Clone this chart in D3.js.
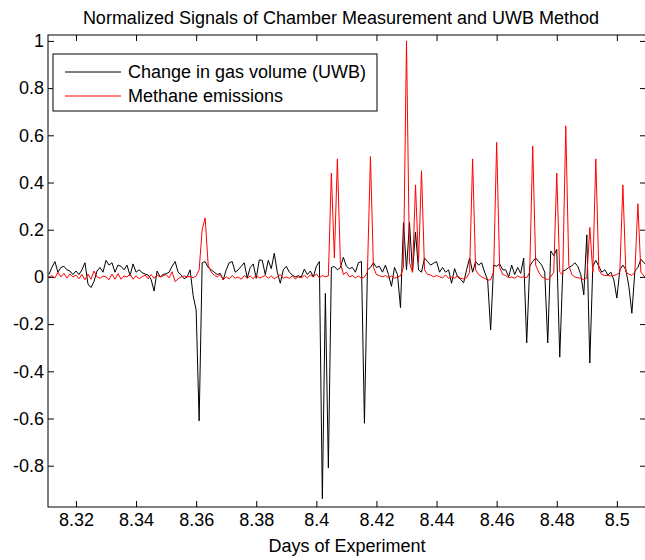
<!DOCTYPE html>
<html>
<head>
<meta charset="utf-8">
<script src="https://cdn.jsdelivr.net/npm/d3@7"></script>
<style>
  body { margin: 0; background: #fff; }
  text { font-family: "Liberation Sans", Arial, Helvetica, sans-serif; }
</style>
</head>
<body>
<svg id="chart" width="645" height="560"></svg>
<script>
// sample times: one reading every 0.001 day starting at day 8.311
var startDay = 8.311
var stepDay = 0.001

// normalized change in gas volume (UWB)
var uwb = [
  0.01, 0.04, 0.065, 0.02, 0.04, 0.045, 0.03, 0.025, 0.01, 0.025,
  0.01, 0.03, 0.06, -0.03, -0.045, -0.02, 0.025, 0.04, 0.02, 0.07,
  0.05, 0.06, 0.02, 0.05, 0.045, 0.03, 0.05, 0.005, 0.055, 0.02,
  0.03, 0.018, 0.012, 0.008, -0.01, -0.06, 0.025, 0.0, 0.01, 0.013,
  0.02, 0.045, 0.065, 0.02, 0.008, -0.008, 0.0, 0.03, -0.08, -0.14,
  -0.61, 0.06, 0.065, 0.04, 0.03, 0.02, 0.01, 0.015, -0.013, 0.03,
  0.06, 0.065, 0.02, 0.03, 0.045, 0.06, -0.005, 0.04, 0.055, -0.006,
  0.072, 0.07, 0.01, 0.07, 0.035, 0.1, 0.02, -0.027, 0.03, 0.045,
  0.02, 0.008, 0.0, 0.005, 0.0, 0.033, 0.01, 0.025, 0.0, 0.045,
  0.065, -0.94, -0.07, -0.81, 0.04, 0.044, 0.03, 0.04, 0.083, 0.045,
  0.035, 0.04, 0.02, 0.06, 0.065, -0.62, 0.03, 0.04, 0.06, 0.04,
  0.045, 0.02, 0.05, 0.01, -0.04, 0.04, 0.01, -0.13, 0.23, 0.03,
  0.23, 0.02, 0.19, 0.03, 0.02, 0.08, 0.065, 0.05, 0.058, 0.065,
  0.02, 0.04, 0.02, 0.03, -0.027, 0.035, 0.0, -0.01, -0.025, 0.03,
  0.08, 0.02, 0.065, 0.05, 0.06, 0.02, -0.013, -0.225, 0.05, 0.045,
  0.055, 0.03, 0.03, 0.0, 0.05, 0.01, 0.04, 0.015, 0.08, -0.28,
  0.045, 0.065, 0.08, 0.065, 0.05, 0.02, -0.28, 0.11, 0.09, 0.117,
  -0.34, 0.025, 0.03, 0.04, 0.047, 0.06, 0.045, 0.01, -0.076, 0.178,
  -0.365, 0.044, 0.07, 0.045, 0.02, 0.03, 0.008, 0.02, -0.013, -0.09,
  0.03, 0.05, 0.03, -0.04, -0.154, 0.025, 0.04, 0.075, 0.06, 0.05
]

// normalized methane emissions (chamber)
var methane = [
  0.0, 0.005, -0.005, 0.02, 0.0, 0.015, -0.005, 0.012, 0.0, 0.008,
  -0.008, 0.01, -0.012, 0.012, -0.01, 0.025, 0.0, -0.006, 0.004, 0.0,
  -0.012, 0.012, -0.01, 0.014, -0.01, 0.004, 0.0, 0.012, -0.01, 0.005,
  -0.008, 0.0, 0.008, -0.008, 0.01, -0.006, 0.008, 0.0, 0.004, 0.01,
  -0.004, 0.022, -0.02, -0.008, 0.0, 0.004, 0.0, 0.002, -0.004, 0.004,
  0.03, 0.2, 0.25, 0.05, 0.02, 0.008, 0.0, 0.01, -0.012, 0.0,
  -0.008, 0.006, -0.006, 0.0, -0.01, 0.006, -0.006, 0.004, -0.008, 0.008,
  -0.005, 0.0, 0.006, -0.006, 0.004, -0.008, 0.0, 0.01, -0.006, 0.0,
  -0.006, 0.004, -0.008, 0.0, -0.004, 0.006, -0.004, 0.008, 0.0, 0.012,
  -0.004, 0.006, 0.0, 0.004, 0.44, 0.08, 0.5, 0.06, 0.01, 0.02,
  0.0, 0.006, -0.004, 0.004, -0.006, 0.0, 0.02, 0.51, 0.04, 0.01,
  0.005, 0.0, 0.006, -0.004, 0.004, -0.006, 0.0, 0.004, 0.04, 1.0,
  0.06, 0.02, 0.39, 0.06, 0.45, 0.03, 0.01, 0.008, 0.0, 0.006,
  0.0, -0.004, 0.008, -0.006, 0.0, -0.006, 0.004, -0.006, -0.008, -0.004,
  0.02, 0.5, 0.03, 0.01, 0.0, -0.006, -0.014, -0.012, 0.02, 0.57,
  0.04, 0.01, 0.006, -0.004, 0.0, -0.006, 0.004, -0.002, 0.0, -0.004,
  0.02, 0.555, 0.05, 0.02, 0.0, -0.006, -0.012, 0.0, 0.02, 0.44,
  0.02, 0.008, 0.64, 0.05, 0.01, 0.0, -0.004, -0.006, -0.012, -0.004,
  0.21, 0.02, 0.5, 0.03, 0.01, 0.006, 0.006, 0.004, 0.006, 0.01,
  0.02, 0.39, 0.02, 0.012, 0.006, 0.02, 0.31, 0.02, 0.004, -0.01
]

var xTicks = [8.32, 8.34, 8.36, 8.38, 8.40, 8.42, 8.44, 8.46, 8.48, 8.50]
var yTicks = [-0.8, -0.6, -0.4, -0.2, 0, 0.2, 0.4, 0.6, 0.8, 1]
var legendLabels = ["Change in gas volume (UWB)", "Methane emissions"]
var legendColors = ["#000000", "#ff0000"]

// plot box (right edge falls just outside the picture, as in the original)
var plotL = 48, plotR = 646, plotT = 35, plotB = 507

var svg = d3.select("#chart")

var x = d3.scaleLinear().domain([8.3107, 8.5097]).range([plotL, plotR])
var y = d3.scaleLinear().domain([-0.975, 1.025]).range([plotB, plotT])

var days = uwb.map(function (d, i) { return startDay + i * stepDay })

svg.append("defs").append("clipPath").attr("id", "plotclip")
  .append("rect")
  .attr("x", plotL).attr("y", plotT)
  .attr("width", plotR - plotL).attr("height", plotB - plotT)

var line = d3.line()
  .x(function (d, i) { return x(days[i]) })
  .y(function (d) { return y(d) })

var plot = svg.append("g").attr("clip-path", "url(#plotclip)")

plot.append("path").datum(uwb)
  .attr("d", line)
  .attr("fill", "none")
  .attr("stroke", "#000")
  .attr("stroke-width", 1)

plot.append("path").datum(methane)
  .attr("d", line)
  .attr("fill", "none")
  .attr("stroke", "#ff0000")
  .attr("stroke-width", 1)

// axes, matlab style: ticks pointing inwards on all four sides
var fmt = function (d) { return d3.format("~g")(d).replace("\u2212", "-") }

svg.append("g")
  .attr("transform", "translate(0," + plotB + ")")
  .call(d3.axisBottom(x).tickValues(xTicks).tickFormat(fmt).tickSize(-6).tickPadding(6))
svg.append("g")
  .attr("transform", "translate(0," + plotT + ")")
  .call(d3.axisTop(x).tickValues(xTicks).tickFormat("").tickSize(-6))
svg.append("g")
  .attr("transform", "translate(" + plotL + ",0)")
  .call(d3.axisLeft(y).tickValues(yTicks).tickFormat(fmt).tickSize(-6).tickPadding(4))
svg.append("g")
  .attr("transform", "translate(" + plotR + ",0)")
  .call(d3.axisRight(y).tickValues(yTicks).tickFormat("").tickSize(-6))

svg.selectAll(".domain").remove()
svg.selectAll(".tick line").attr("stroke", "#000")
svg.selectAll(".tick text")
  .attr("fill", "#000")
  .attr("font-size", 18)
  .attr("font-family", "'Liberation Sans', Arial, sans-serif")

svg.append("rect")
  .attr("x", plotL).attr("y", plotT)
  .attr("width", plotR - plotL).attr("height", plotB - plotT)
  .attr("fill", "none")
  .attr("stroke", "#000")
  .attr("stroke-width", 1)

svg.append("text")
  .attr("x", 341).attr("y", 24)
  .attr("text-anchor", "middle")
  .attr("font-size", 18)
  .text("Normalized Signals of Chamber Measurement and UWB Method")

svg.append("text")
  .attr("x", 347).attr("y", 552)
  .attr("text-anchor", "middle")
  .attr("font-size", 18)
  .text("Days of Experiment")

// legend
var legend = svg.append("g")
legend.append("rect")
  .attr("x", 53).attr("y", 54)
  .attr("width", 324).attr("height", 57)
  .attr("fill", "#fff")
  .attr("stroke", "#000")

legendLabels.forEach(function (label, i) {
  var ly = 72 + i * 24
  legend.append("line")
    .attr("x1", 65).attr("x2", 121)
    .attr("y1", ly).attr("y2", ly)
    .attr("stroke", legendColors[i])
  legend.append("text")
    .attr("x", 128).attr("y", ly + 6)
    .attr("font-size", 18)
    .text(label)
})
</script>
</body>
</html>
